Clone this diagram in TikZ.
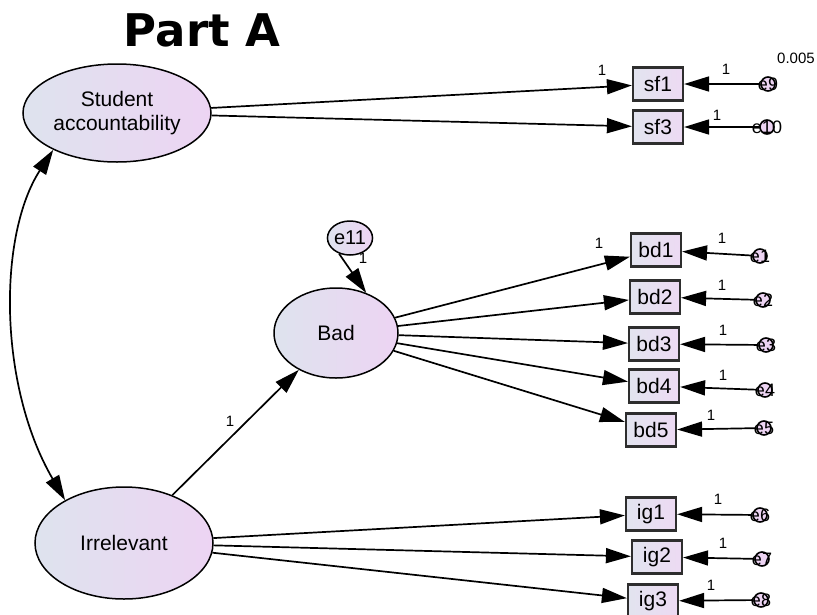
\documentclass[tikz,border=0pt]{standalone}
\usepackage{fontspec}
\setmainfont{Liberation Sans}
\newfontfamily\titlefont{DejaVu Sans}
\usetikzlibrary{arrows.meta,shapes.geometric}

\definecolor{latL}{HTML}{DEE3EE}
\definecolor{latR}{HTML}{EDD4F3}
\definecolor{boxL}{HTML}{E2E4EF}
\definecolor{boxR}{HTML}{EDDAF3}
\definecolor{boxedge}{HTML}{2E2E2E}

\tikzset{
  x=1pt, y=-1pt,
  latent/.style={ellipse, draw=black, line width=1.5pt, left color=latL, right color=latR,
    inner sep=0pt, align=center, font=\fontsize{21}{24}\selectfont},
  obsbox/.style={rectangle, draw=boxedge, line width=2.2pt, left color=boxL, right color=boxR,
    minimum width=50pt, minimum height=33pt, inner sep=0pt, font=\fontsize{21}{22}\selectfont},
  errc/.style={circle, draw=black, line width=1.6pt, fill=latR, minimum size=14pt, inner sep=0pt},
  errtxt/.style={inner sep=0pt, font=\fontsize{18}{18}\selectfont},
  wt/.style={inner sep=0pt, font=\fontsize{15}{15}\selectfont},
  tip/.tip={Triangle[length=25pt,width=15pt]},
  path/.style={line width=1.7pt, -tip},
  cov/.style={line width=1.7pt, tip-tip},
}

\begin{document}
\begin{tikzpicture}
\useasboundingbox (0,0) rectangle (817,614);

% title
\node[inner sep=0pt, font=\titlefont\bfseries\fontsize{45}{45}\selectfont] (title) at (202,30) {Part A};

% latent variables
\node[latent, minimum width=188pt, minimum height=98pt] (SA) at (117,113) {Student\\accountability};
\node[latent, minimum width=124pt, minimum height=90pt] (BAD) at (336,333) {Bad};
\node[latent, minimum width=178pt, minimum height=112pt] (IR) at (124,543) {Irrelevant};
\node[latent, minimum width=44pt, minimum height=34pt, font=\fontsize{20}{20}\selectfont] (e11) at (350,238) {e11};

% observed variables
\node[obsbox] (sf1) at (658,84) {sf1};
\node[obsbox] (sf3) at (658,127) {sf3};
\node[obsbox] (bd1) at (656,250) {bd1};
\node[obsbox] (bd2) at (655,297) {bd2};
\node[obsbox] (bd3) at (654,344) {bd3};
\node[obsbox] (bd4) at (654,386) {bd4};
\node[obsbox] (bd5) at (651,430) {bd5};
\node[obsbox] (ig1) at (651,514) {ig1};
\node[obsbox] (ig2) at (657,557) {ig2};
\node[obsbox] (ig3) at (653,601) {ig3};

% error terms
\foreach \n/\px/\py in {e9/768/84, e10/767/127, e1/760/256, e2/763/300, e3/766/345,
                        e4/765/390, e5/764/428, e6/760/515, e7/762/559, e8/761/600}{
  \node[errc] (\n) at (\px,\py) {};
  \node[errtxt] (\n txt) at (\px,\py) {\n};
}

% structural paths
\draw[path] (SA) -- (sf1);
\draw[path] (SA) -- (sf3);
\draw[path] (BAD) -- (bd1);
\draw[path] (BAD) -- (bd2);
\draw[path] (BAD) -- (bd3);
\draw[path] (BAD) -- (bd4);
\draw[path] (BAD) -- (bd5);
\draw[path] (IR) -- (ig1);
\draw[path] (IR) -- (ig2);
\draw[path] (IR) -- (ig3);
\draw[path] (IR) -- (BAD);
\draw[path] (e11.235) -- (BAD.53);

% error paths
\draw[path] (e9) -- (sf1);
\draw[path] (e10) -- (sf3);
\draw[path] (e1) -- (bd1);
\draw[path] (e2) -- (bd2);
\draw[path] (e3) -- (bd3);
\draw[path] (e4) -- (bd4);
\draw[path] (e5) -- (bd5);
\draw[path] (e6) -- (ig1);
\draw[path] (e7) -- (ig2);
\draw[path] (e8) -- (ig3);

% covariance
\draw[cov] (SA.210) .. controls (-2,235) and (-2,385) .. (IR.144);

% fixed weights
\node[wt] (w1) at (602,70) {1};
\node[wt] (w2) at (726,69) {1};
\node[wt] (w3) at (717,115) {1};
\node[wt] (w4) at (599,243) {1};
\node[wt] (w5) at (722,238) {1};
\node[wt] (w6) at (722,285) {1};
\node[wt] (w7) at (723,330) {1};
\node[wt] (w8) at (723,375) {1};
\node[wt] (w9) at (711,415) {1};
\node[wt] (w10) at (718,499) {1};
\node[wt] (w11) at (723,543) {1};
\node[wt] (w12) at (711,585) {1};
\node[wt] (w13) at (230,421) {1};
\node[wt] (w14) at (363,258) {1};
\node[wt] (var) at (796,58) {0.005};
\end{tikzpicture}
\end{document}
